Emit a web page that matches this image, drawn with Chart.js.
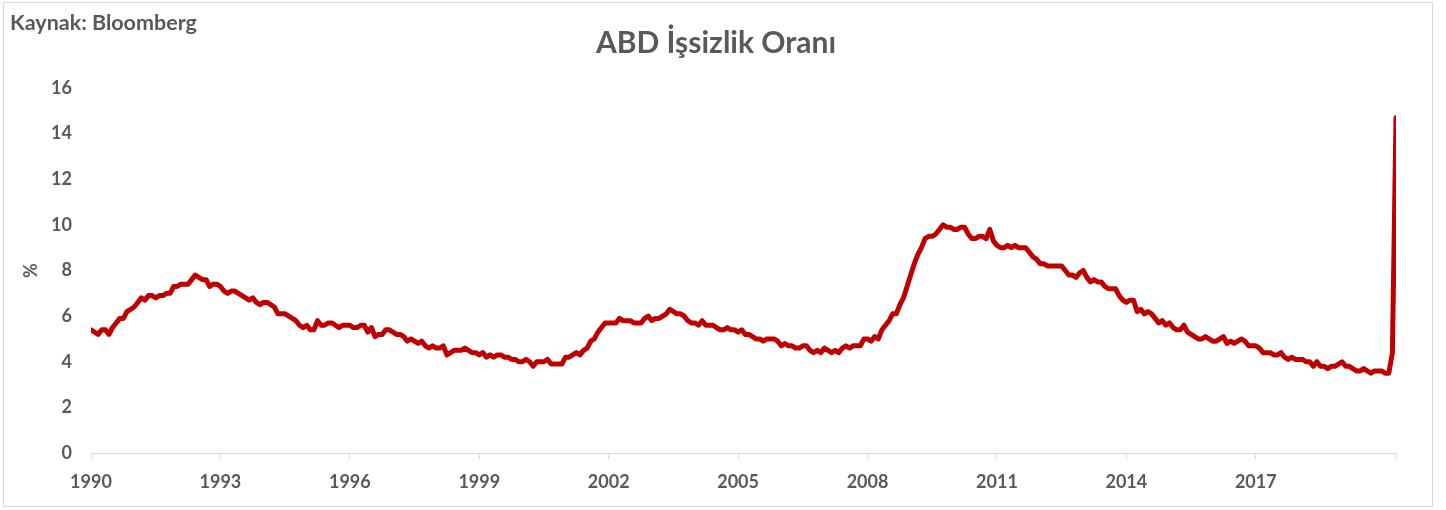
<!DOCTYPE html>
<html>
<head>
<meta charset="utf-8">
<script src="https://cdn.jsdelivr.net/npm/chart.js@4"></script>
<style>
  html, body { margin: 0; padding: 0; background: #fff; }
  #wrap { position: relative; width: 1446px; height: 510px; }
  #frame { position: absolute; left: 3px; top: 2px; width: 1428px; height: 503px; border: 1px solid #d9d9d9; pointer-events: none; }
</style>
</head>
<body>
<div id="wrap">
  <canvas id="chart" width="1446" height="510"></canvas>
  <div id="frame"></div>
</div>
<script>
const SOURCE = "Kaynak: Bloomberg";
const TITLE = "ABD İşsizlik Oranı";
const Y_LABEL = "%";
const START_YEAR = 1990;
const TICK_YEARS = [1990, 1993, 1996, 1999, 2002, 2005, 2008, 2011, 2014, 2017];
const AXIS_END = 2020.25;

// monthly rate, one row per year (1990 .. 2020 Apr)
const rates = [
  5.4, 5.3, 5.2, 5.4, 5.4, 5.2, 5.5, 5.7, 5.9, 5.9, 6.2, 6.3,
  6.4, 6.6, 6.8, 6.7, 6.9, 6.9, 6.8, 6.9, 6.9, 7.0, 7.0, 7.3,
  7.3, 7.4, 7.4, 7.4, 7.6, 7.8, 7.7, 7.6, 7.6, 7.3, 7.4, 7.4,
  7.3, 7.1, 7.0, 7.1, 7.1, 7.0, 6.9, 6.8, 6.7, 6.8, 6.6, 6.5,
  6.6, 6.6, 6.5, 6.4, 6.1, 6.1, 6.1, 6.0, 5.9, 5.8, 5.6, 5.5,
  5.6, 5.4, 5.4, 5.8, 5.6, 5.6, 5.7, 5.7, 5.6, 5.5, 5.6, 5.6,
  5.6, 5.5, 5.5, 5.6, 5.6, 5.3, 5.5, 5.1, 5.2, 5.2, 5.4, 5.4,
  5.3, 5.2, 5.2, 5.1, 4.9, 5.0, 4.9, 4.8, 4.9, 4.7, 4.6, 4.7,
  4.6, 4.6, 4.7, 4.3, 4.4, 4.5, 4.5, 4.5, 4.6, 4.5, 4.4, 4.4,
  4.3, 4.4, 4.2, 4.3, 4.2, 4.3, 4.3, 4.2, 4.2, 4.1, 4.1, 4.0,
  4.0, 4.1, 4.0, 3.8, 4.0, 4.0, 4.0, 4.1, 3.9, 3.9, 3.9, 3.9,
  4.2, 4.2, 4.3, 4.4, 4.3, 4.5, 4.6, 4.9, 5.0, 5.3, 5.5, 5.7,
  5.7, 5.7, 5.7, 5.9, 5.8, 5.8, 5.8, 5.7, 5.7, 5.7, 5.9, 6.0,
  5.8, 5.9, 5.9, 6.0, 6.1, 6.3, 6.2, 6.1, 6.1, 6.0, 5.8, 5.7,
  5.7, 5.6, 5.8, 5.6, 5.6, 5.6, 5.5, 5.4, 5.4, 5.5, 5.4, 5.4,
  5.3, 5.4, 5.2, 5.2, 5.1, 5.0, 5.0, 4.9, 5.0, 5.0, 5.0, 4.9,
  4.7, 4.8, 4.7, 4.7, 4.6, 4.6, 4.7, 4.7, 4.5, 4.4, 4.5, 4.4,
  4.6, 4.5, 4.4, 4.5, 4.4, 4.6, 4.7, 4.6, 4.7, 4.7, 4.7, 5.0,
  5.0, 4.9, 5.1, 5.0, 5.4, 5.6, 5.8, 6.1, 6.1, 6.5, 6.8, 7.3,
  7.8, 8.3, 8.7, 9.0, 9.4, 9.5, 9.5, 9.6, 9.8, 10.0, 9.9, 9.9,
  9.8, 9.8, 9.9, 9.9, 9.6, 9.4, 9.4, 9.5, 9.5, 9.4, 9.8, 9.3,
  9.1, 9.0, 9.0, 9.1, 9.0, 9.1, 9.0, 9.0, 9.0, 8.8, 8.6, 8.5,
  8.3, 8.3, 8.2, 8.2, 8.2, 8.2, 8.2, 8.0, 7.8, 7.8, 7.7, 7.9,
  8.0, 7.7, 7.5, 7.6, 7.5, 7.5, 7.3, 7.2, 7.2, 7.2, 6.9, 6.7,
  6.6, 6.7, 6.7, 6.2, 6.3, 6.1, 6.2, 6.1, 5.9, 5.7, 5.8, 5.6,
  5.7, 5.5, 5.4, 5.4, 5.6, 5.3, 5.2, 5.1, 5.0, 5.0, 5.1, 5.0,
  4.9, 4.9, 5.0, 5.1, 4.8, 4.9, 4.8, 4.9, 5.0, 4.9, 4.7, 4.7,
  4.7, 4.6, 4.4, 4.4, 4.4, 4.3, 4.3, 4.4, 4.2, 4.1, 4.2, 4.1,
  4.1, 4.1, 4.0, 4.0, 3.8, 4.0, 3.8, 3.8, 3.7, 3.8, 3.8, 3.9,
  4.0, 3.8, 3.8, 3.7, 3.6, 3.6, 3.7, 3.6, 3.5, 3.6, 3.6, 3.6,
  3.5, 3.5, 4.4, 14.7
];

const GRAY = "#595959";
const LINE = "#d9d9d9";
const FONT = "Lato, 'Open Sans', sans-serif";

const points = rates.map((v, i) => ({ x: START_YEAR + i / 12, y: v }));

// source note (top left) and title (centred on the whole picture)
const headerText = {
  id: "headerText",
  afterDraw(chart) {
    const ctx = chart.ctx;
    ctx.save();
    ctx.fillStyle = GRAY;
    ctx.textBaseline = "middle";
    ctx.font = `bold 21.5px ${FONT}`;
    ctx.textAlign = "left";
    ctx.fillText(SOURCE, 10, 23);
    ctx.font = `bold 30px ${FONT}`;
    ctx.textAlign = "center";
    ctx.fillText(TITLE, 716, 43);
    ctx.restore();
  },
};

new Chart(document.getElementById("chart"), {
  type: "line",
  data: {
    datasets: [{
      data: points,
      borderColor: "#c00000",
      borderWidth: 5,
      borderJoinStyle: "round",
      borderCapStyle: "round",
      pointRadius: 0,
      tension: 0,
    }],
  },
  plugins: [headerText],
  options: {
    responsive: false,
    animation: false,
    layout: { padding: { left: 10, right: 50, top: 88, bottom: 0 } },
    plugins: {
      legend: { display: false },
      tooltip: { enabled: false },
      title: { display: false },
    },
    scales: {
      x: {
        type: "linear",
        min: START_YEAR,
        max: AXIS_END,
        afterBuildTicks: (s) => {
          s.ticks = TICK_YEARS.concat([AXIS_END]).map((v) => ({ value: v }));
        },
        afterFit: (s) => { s.height = 57; },
        border: { display: true, color: LINE, width: 1 },
        grid: { drawOnChartArea: false, drawTicks: true, tickLength: 6, color: LINE },
        ticks: {
          autoSkip: false,
          maxRotation: 0,
          padding: 12,
          color: GRAY,
          font: { family: FONT, size: 18, weight: "bold" },
          callback: (v) => (TICK_YEARS.includes(v) ? String(v) : ""),
        },
      },
      y: {
        min: 0,
        max: 16,
        afterFit: (s) => { s.width = 81; },
        border: { display: false },
        grid: { display: false, drawTicks: false },
        ticks: {
          stepSize: 2,
          padding: 19,
          color: GRAY,
          font: { family: FONT, size: 18, weight: "bold" },
        },
        title: {
          display: true,
          text: Y_LABEL,
          color: GRAY,
          font: { family: FONT, size: 18, weight: "bold" },
          padding: { top: 10, bottom: 0 },
        },
      },
    },
  },
});
</script>
</body>
</html>
